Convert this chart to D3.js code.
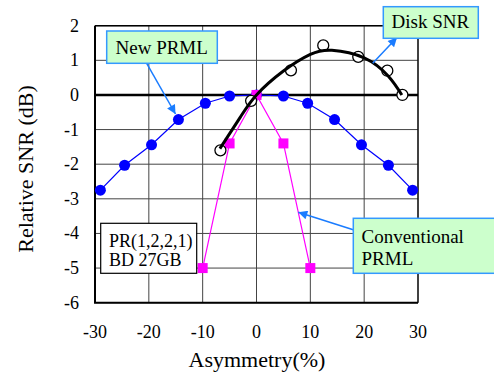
<!DOCTYPE html>
<html lang="en">
<head>
<meta charset="UTF-8">
<title>Relative SNR vs Asymmetry</title>
<script src="https://d3js.org/d3.v7.min.js"></script>
<style>
    body { margin: 0; background: #fff; }
</style>
</head>
<body>
<div id="chart"></div>
<script>
    // data
    const xTicks = [-30, -20, -10, 0, 10, 20, 30];
    const yTicks = [2, 1, 0, -1, -2, -3, -4, -5, -6];

    const newPrmlX = [-29, -24.5, -19.5, -14.5, -9.5, -5, 0, 5, 9.5, 14.5, 19.5, 24.5, 29];
    const newPrmlY = [-2.75, -2.03, -1.44, -0.71, -0.24, -0.03, 0, -0.03, -0.24, -0.71, -1.44, -2.03, -2.75];

    const convX = [-10, -5, 0, 5, 10];
    const convY = [-5, -1.4, 0, -1.4, -5];

    const diskX = [-6.7, -1, 6.4, 12.4, 18.9, 24.3, 27.1];
    const diskY = [-1.6, -0.17, 0.71, 1.43, 1.1, 0.7, 0];

    // fitted curve through the disk SNR points (as drawn)
    const fitX = [-6.8, -3, 0, 5, 10, 14, 20, 24.5, 27];
    const fitY = [-1.55, -0.64, 0, 0.69, 1.17, 1.29, 1.07, 0.54, 0];

    const serif = "'Liberation Serif', 'Times New Roman', 'DejaVu Serif', serif";
    const width = 494, height = 376;
    const svg = d3.select("#chart").append("svg")
        .attr("width", width)
        .attr("height", height)
        .attr("font-family", serif);

    const x = d3.scaleLinear().domain([-30, 30]).range([95, 418]);
    const y = d3.scaleLinear().domain([-6, 2]).range([302.7, 25.7]);

    const defs = svg.append("defs");
    defs.append("marker")
        .attr("id", "arrow")
        .attr("viewBox", "0 0 10 10")
        .attr("refX", 10).attr("refY", 5)
        .attr("markerWidth", 12).attr("markerHeight", 9)
        .attr("markerUnits", "userSpaceOnUse")
        .attr("orient", "auto")
        .append("path")
        .attr("d", "M0,0 L10,5 L0,10 Z")
        .attr("fill", "#1a7cff");

    // grid
    svg.append("g").selectAll("line")
        .data(xTicks)
        .join("line")
        .attr("x1", d => x(d)).attr("x2", d => x(d))
        .attr("y1", y(2)).attr("y2", y(-6))
        .attr("stroke", "#444").attr("stroke-width", 1);
    svg.append("g").selectAll("line")
        .data(yTicks)
        .join("line")
        .attr("x1", x(-30)).attr("x2", x(30))
        .attr("y1", d => y(d)).attr("y2", d => y(d))
        .attr("stroke", "#444").attr("stroke-width", 1);

    // frame
    svg.append("line").attr("x1", x(-30)).attr("x2", x(30)).attr("y1", y(2)).attr("y2", y(2))
        .attr("stroke", "#000").attr("stroke-width", 1.5);
    svg.append("line").attr("x1", x(30)).attr("x2", x(30)).attr("y1", y(2)).attr("y2", y(-6))
        .attr("stroke", "#000").attr("stroke-width", 1.2);
    svg.append("line").attr("x1", x(-30)).attr("x2", x(-30)).attr("y1", y(2)).attr("y2", y(-6))
        .attr("stroke", "#000").attr("stroke-width", 2);
    svg.append("line").attr("x1", x(-30) - 1).attr("x2", x(30)).attr("y1", y(-6)).attr("y2", y(-6))
        .attr("stroke", "#000").attr("stroke-width", 2);
    svg.append("line").attr("x1", x(-30)).attr("x2", x(30)).attr("y1", y(0)).attr("y2", y(0))
        .attr("stroke", "#000").attr("stroke-width", 2.5);

    // tick labels
    svg.append("g").selectAll("text")
        .data(yTicks)
        .join("text")
        .attr("x", 79)
        .attr("y", d => y(d) + 6)
        .attr("text-anchor", "end")
        .attr("font-family", serif)
        .attr("font-size", 18)
        .text(d => d);
    svg.append("g").selectAll("text")
        .data(xTicks)
        .join("text")
        .attr("x", d => x(d))
        .attr("y", 338)
        .attr("text-anchor", "middle")
        .attr("font-family", serif)
        .attr("font-size", 18)
        .text(d => d);

    // axis titles
    svg.append("text")
        .attr("transform", "translate(33,169) rotate(-90)")
        .attr("text-anchor", "middle")
        .attr("font-family", serif)
        .attr("font-size", 22)
        .text("Relative SNR (dB)");
    svg.append("text")
        .attr("x", 257).attr("y", 367)
        .attr("text-anchor", "middle")
        .attr("font-family", serif)
        .attr("font-size", 22)
        .text("Asymmetry(%)");

    const line = d3.line().x(d => x(d[0])).y(d => y(d[1]));

    // New PRML
    const newPts = d3.zip(newPrmlX, newPrmlY);
    svg.append("path").datum(newPts)
        .attr("d", line)
        .attr("fill", "none").attr("stroke", "#0000ff").attr("stroke-width", 1.2);
    svg.append("g").selectAll("circle")
        .data(newPts)
        .join("circle")
        .attr("cx", d => x(d[0])).attr("cy", d => y(d[1]))
        .attr("r", 5.5)
        .attr("fill", "#0000ff");

    // Conventional PRML
    const convPts = d3.zip(convX, convY);
    svg.append("path").datum(convPts)
        .attr("d", line)
        .attr("fill", "none").attr("stroke", "#ff00ff").attr("stroke-width", 1.2);
    svg.append("g").selectAll("rect")
        .data(convPts)
        .join("rect")
        .attr("x", d => x(d[0]) - 5).attr("y", d => y(d[1]) - 5)
        .attr("width", 10).attr("height", 10)
        .attr("fill", "#ff00ff");

    // Disk SNR
    const diskPts = d3.zip(diskX, diskY);
    svg.append("g").selectAll("circle")
        .data(diskPts)
        .join("circle")
        .attr("cx", d => x(d[0])).attr("cy", d => y(d[1]))
        .attr("r", 5.5)
        .attr("fill", "#fff")
        .attr("stroke", "#000").attr("stroke-width", 1.3);
    svg.append("path").datum(d3.zip(fitX, fitY))
        .attr("d", line.curve(d3.curveNatural))
        .attr("fill", "none").attr("stroke", "#000").attr("stroke-width", 3);

    // callouts
    function callout(bx, by, bw, bh, lines, tx, ty, dy) {
        svg.append("rect")
            .attr("x", bx).attr("y", by).attr("width", bw).attr("height", bh)
            .attr("fill", "#ccffcc").attr("stroke", "#3399ff").attr("stroke-width", 1.5);
        lines.forEach((t, i) => {
            svg.append("text")
                .attr("x", tx).attr("y", ty + i * dy)
                .attr("font-family", serif)
                .attr("font-size", 19)
                .text(t);
        });
    }
    function arrow(x1, y1, x2, y2) {
        svg.append("line")
            .attr("x1", x1).attr("y1", y1).attr("x2", x2).attr("y2", y2)
            .attr("stroke", "#1a7cff").attr("stroke-width", 1.5)
            .attr("marker-end", "url(#arrow)");
    }

    arrow(146.7, 63.3, 175.5, 114);
    callout(106.7, 31, 110.6, 32.3, ["New PRML"], 115.5, 54, 0);

    arrow(372.7, 63.3, 397, 37.5);
    callout(383.3, 6.7, 95, 31.6, ["Disk SNR"], 391.5, 28.3, 0);

    arrow(354, 230, 298.3, 212.3);
    callout(353.3, 218.3, 150, 55, ["Conventional", "PRML"], 361.5, 242.7, 22.5);

    // condition box
    svg.append("rect")
        .attr("x", 100.7).attr("y", 223.3).attr("width", 96).attr("height", 50)
        .attr("fill", "#fff").attr("stroke", "#000").attr("stroke-width", 1.2);
    svg.append("text").attr("x", 109).attr("y", 247.3)
        .attr("font-family", serif).attr("font-size", 18).text("PR(1,2,2,1)");
    svg.append("text").attr("x", 109).attr("y", 265.5)
        .attr("font-family", serif).attr("font-size", 18).text("BD 27GB");
</script>
</body>
</html>
